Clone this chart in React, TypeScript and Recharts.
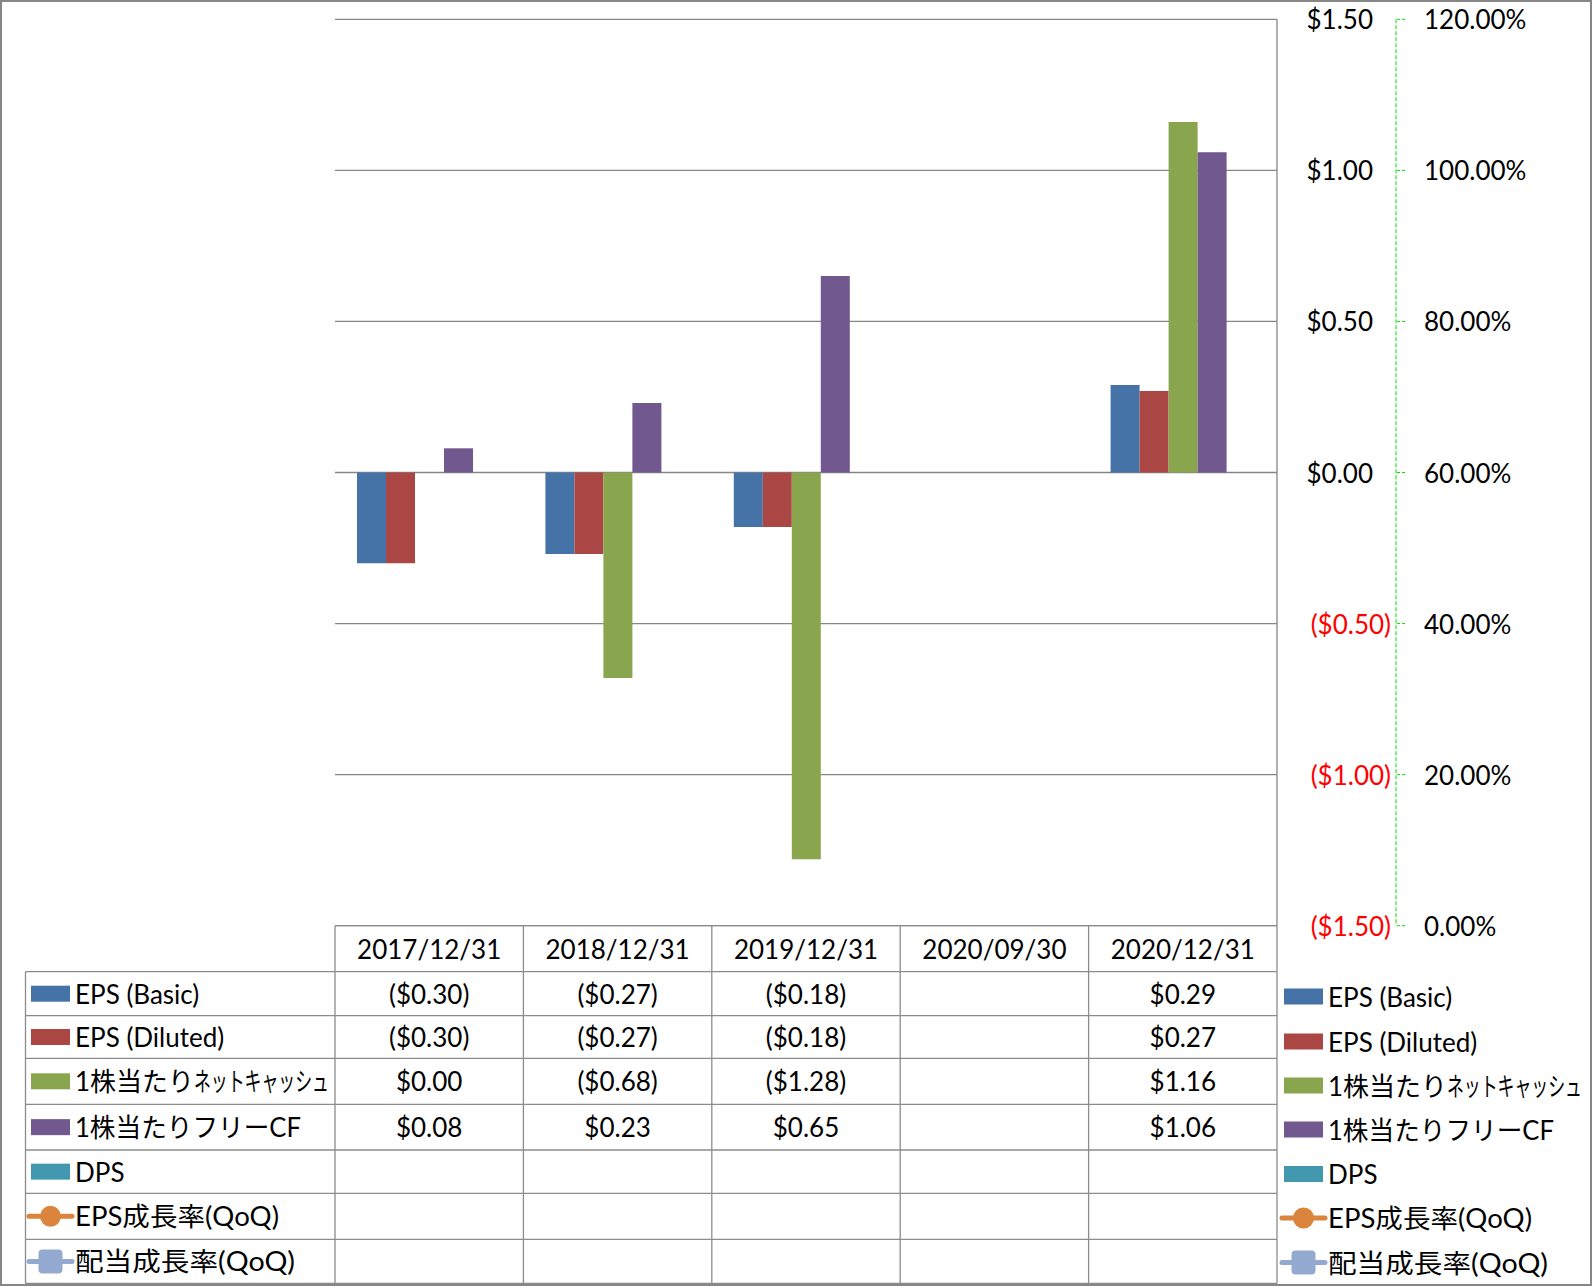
import React from "react";
import { ComposedChart, Bar, Line, XAxis, YAxis, CartesianGrid } from "recharts";

// values
const categories = ["2017/12/31", "2018/12/31", "2019/12/31", "2020/09/30", "2020/12/31"];
const epsBasic = [-0.3, -0.27, -0.18, null, 0.29];
const epsDiluted = [-0.3, -0.27, -0.18, null, 0.27];
const netCashPerShare = [0.0, -0.68, -1.28, null, 1.16];
const fcfPerShare = [0.08, 0.23, 0.65, null, 1.06];
const dps = [null, null, null, null, null];
const epsGrowth = [null, null, null, null, null];
const dividendGrowth = [null, null, null, null, null];

const usdTicks = [-1.5, -1, -0.5, 0, 0.5, 1, 1.5];
const pctTicks = [0, 0.2, 0.4, 0.6, 0.8, 1, 1.2];

type Series = {
  key: string;
  name: string;
  color: string;
  kind: "bar" | "circle" | "square";
  values: (number | null)[];
};

const series: Series[] = [
  { key: "epsBasic", name: "EPS (Basic)", color: "#4572A7", kind: "bar", values: epsBasic },
  { key: "epsDiluted", name: "EPS (Diluted)", color: "#AA4643", kind: "bar", values: epsDiluted },
  { key: "netCash", name: "1株当たりネットキャッシュ", color: "#89A54E", kind: "bar", values: netCashPerShare },
  { key: "fcf", name: "1株当たりフリーCF", color: "#71588F", kind: "bar", values: fcfPerShare },
  { key: "dps", name: "DPS", color: "#4198AF", kind: "bar", values: dps },
  { key: "epsGrowth", name: "EPS成長率(QoQ)", color: "#DB843D", kind: "circle", values: epsGrowth },
  { key: "divGrowth", name: "配当成長率(QoQ)", color: "#93A9CF", kind: "square", values: dividendGrowth },
];

const data = categories.map((date, i) => {
  const row: Record<string, string | number | null> = { date };
  series.forEach((s) => (row[s.key] = s.values[i]));
  return row;
});

const W = 1592;
const H = 1286;
const PLOT_LEFT = 335;
const PLOT_RIGHT = 1277;
const PLOT_TOP = 19.3;
const PLOT_BOTTOM = 925.7;
const X_AXIS_H = 46;
const FONT = "Lato, 'Noto Sans CJK JP', sans-serif";
const FS = 26;
const GRID = "#868686";
const TABLE_LINE = "#8C8C8C";
const AXIS_GREEN = "#00E000";

// table row boundaries (header row, then one row per series)
const rowLines = [925.7, 971.7, 1015.7, 1058.3, 1104.3, 1150, 1193.3, 1239.3, 1283.5];
const legendRows = [996.5, 1041.5, 1085.5, 1129.5, 1174, 1218, 1262.5];
const colW = (PLOT_RIGHT - PLOT_LEFT) / categories.length;

// the Japanese labels use a proportional font in the original, so pin their widths
const labelFit: Record<string, { text: string; w?: number }[]> = {
  "1株当たりネットキャッシュ": [{ text: "1株当たり", w: 119 }, { text: "ネットキャッシュ", w: 135 }],
  "1株当たりフリーCF": [{ text: "1株当たりフリーCF", w: 226 }],
  "EPS成長率(QoQ)": [{ text: "EPS成長率(QoQ)", w: 204 }],
  "配当成長率(QoQ)": [{ text: "配当成長率(QoQ)", w: 220 }],
};

const fmtUsd = (v: number | null) =>
  v == null ? "" : v < 0 ? `($${Math.abs(v).toFixed(2)})` : `$${v.toFixed(2)}`;

function UsdTick(props: any) {
  const v = props.payload.value as number;
  const neg = v < 0;
  return (
    <text
      x={neg ? 1391 : 1373}
      y={props.y}
      textAnchor="end"
      dominantBaseline="central"
      fill={neg ? "#FF0000" : "#000"}
      fontSize={FS}
      fontFamily={FONT}
    >
      {fmtUsd(v)}
    </text>
  );
}

function PctTick(props: any) {
  const v = props.payload.value as number;
  return (
    <text x={1424} y={props.y} textAnchor="start" dominantBaseline="central" fill="#000" fontSize={FS} fontFamily={FONT}>
      {(v * 100).toFixed(2)}%
    </text>
  );
}

function DateTick(props: any) {
  return (
    <text
      x={props.x}
      y={(rowLines[0] + rowLines[1]) / 2}
      textAnchor="middle"
      dominantBaseline="central"
      fill="#000"
      fontSize={FS}
      fontFamily={FONT}
    >
      {props.payload.value}
    </text>
  );
}

function Label({ x, y, s }: { x: number; y: number; s: Series }) {
  const parts = labelFit[s.name] ?? [{ text: s.name }];
  let cx = x;
  return (
    <g>
      {parts.map((p, i) => {
        const el = (
          <text
            key={i}
            x={cx}
            y={y}
            dominantBaseline="central"
            fill="#000"
            fontSize={FS}
            fontFamily={FONT}
            textLength={p.w}
            lengthAdjust={p.w ? "spacingAndGlyphs" : undefined}
          >
            {p.text}
          </text>
        );
        cx += p.w ?? 0;
        return el;
      })}
    </g>
  );
}

function Key({ x, cy, s }: { x: number; cy: number; s: Series }) {
  if (s.kind === "bar") return <rect x={x} y={cy - 8} width={39} height={16} fill={s.color} />;
  const mid = x + 19.5;
  return (
    <g>
      <line x1={x - 2} x2={x + 41} y1={cy} y2={cy} stroke={s.color} strokeWidth={5} strokeLinecap="round" />
      {s.kind === "circle" ? (
        <circle cx={mid} cy={cy} r={10.5} fill={s.color} />
      ) : (
        <rect x={mid - 12} y={cy - 12} width={24} height={24} rx={4} fill={s.color} />
      )}
    </g>
  );
}

function TableOverlay() {
  const cols = categories.map((_, i) => PLOT_LEFT + i * colW);
  return (
    <svg width={W} height={H} style={{ position: "absolute", left: 0, top: 0, pointerEvents: "none" }}>
      {rowLines.map((y, i) => (
        <line key={`h${i}`} x1={i === 0 ? PLOT_LEFT : 25.5} x2={PLOT_RIGHT} y1={y} y2={y} stroke={TABLE_LINE} strokeWidth={1.3} />
      ))}
      <line x1={25.5} x2={25.5} y1={rowLines[1]} y2={rowLines[8]} stroke={TABLE_LINE} strokeWidth={1.3} />
      {[...cols, PLOT_RIGHT].map((x, i) => (
        <line key={`v${i}`} x1={x} x2={x} y1={rowLines[0]} y2={rowLines[8]} stroke={TABLE_LINE} strokeWidth={1.3} />
      ))}
      {series.map((s, r) => {
        const cy = (rowLines[r + 1] + rowLines[r + 2]) / 2;
        return (
          <g key={s.key}>
            <Key x={31} cy={cy} s={s} />
            <Label x={75} y={cy} s={s} />
            {s.values.map((v, c) => (
              <text
                key={c}
                x={cols[c] + colW / 2}
                y={cy}
                textAnchor="middle"
                dominantBaseline="central"
                fill="#000"
                fontSize={FS}
                fontFamily={FONT}
              >
                {fmtUsd(v)}
              </text>
            ))}
          </g>
        );
      })}
      {series.map((s, r) => (
        <g key={`lg${s.key}`}>
          <Key x={1284} cy={legendRows[r]} s={s} />
          <Label x={1328} y={legendRows[r]} s={s} />
        </g>
      ))}
    </svg>
  );
}

export default function App() {
  return (
    <div
      style={{
        position: "absolute",
        left: 0,
        top: 0,
        width: W,
        height: H,
        background: "#fff",
        fontFamily: FONT,
      }}
    >
      <ComposedChart
        width={W}
        height={H}
        data={data}
        margin={{ top: PLOT_TOP, right: 46, bottom: H - PLOT_BOTTOM - X_AXIS_H, left: PLOT_LEFT }}
        barCategoryGap={22}
        barGap={0}
      >
        <CartesianGrid vertical={false} stroke={GRID} strokeWidth={1.3} yAxisId="a_usd" />
        <XAxis dataKey="date" axisLine={false} tickLine={false} height={X_AXIS_H} interval={0} tick={<DateTick />} />
        <YAxis
          yAxisId="a_usd"
          orientation="right"
          width={119}
          domain={[-1.5, 1.5]}
          ticks={usdTicks}
          interval={0}
          allowDataOverflow
          axisLine={{ stroke: GRID, strokeWidth: 1.3 }}
          tickLine={false}
          tick={<UsdTick />}
        />
        <YAxis
          yAxisId="b_pct"
          orientation="right"
          width={150}
          domain={[0, 1.2]}
          ticks={pctTicks}
          interval={0}
          allowDataOverflow
          axisLine={{ stroke: AXIS_GREEN, strokeDasharray: "4 2" }}
          tickLine={{ stroke: AXIS_GREEN, strokeDasharray: "3 2" }}
          tickSize={9}
          tick={<PctTick />}
        />
        {series
          .filter((s) => s.kind === "bar")
          .map((s) => (
            <Bar key={s.key} dataKey={s.key} name={s.name} yAxisId="a_usd" fill={s.color} isAnimationActive={false} />
          ))}
        {series
          .filter((s) => s.kind !== "bar")
          .map((s) => (
            <Line
              key={s.key}
              dataKey={s.key}
              name={s.name}
              yAxisId="b_pct"
              stroke={s.color}
              strokeWidth={4}
              dot={{ r: 8, fill: s.color, stroke: s.color }}
              isAnimationActive={false}
            />
          ))}
      </ComposedChart>
      <TableOverlay />
      <div
        style={{
          position: "absolute",
          left: 0,
          top: 0,
          width: W,
          height: H,
          border: "2px solid #878787",
          boxSizing: "border-box",
          pointerEvents: "none",
        }}
      />
    </div>
  );
}
